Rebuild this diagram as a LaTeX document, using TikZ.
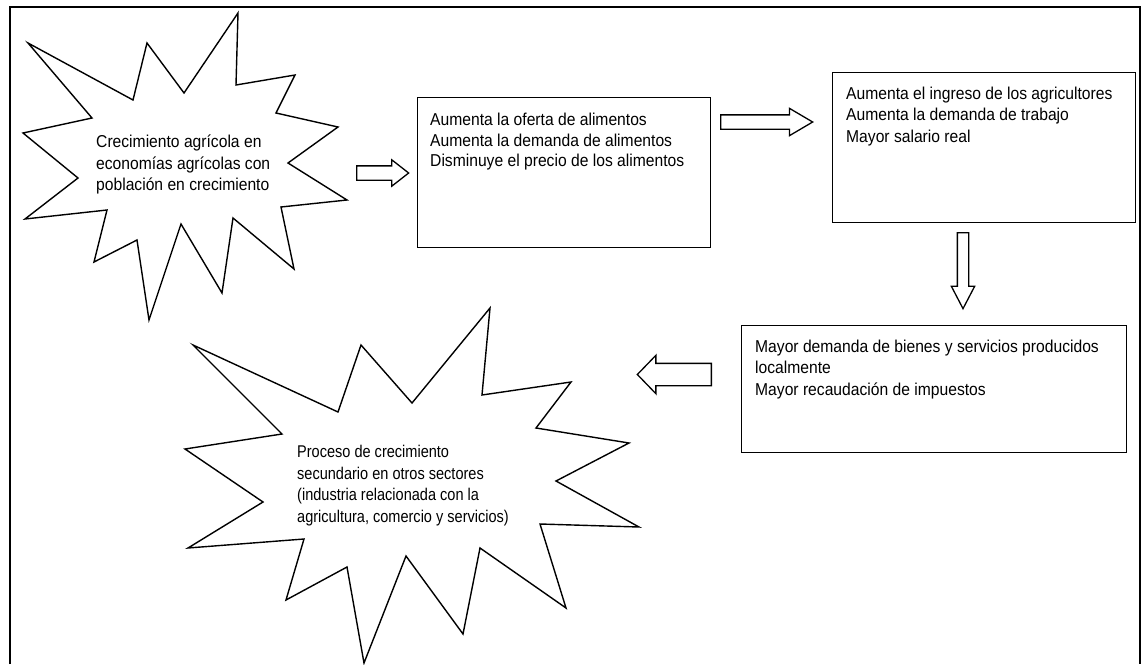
\documentclass[tikz,border=0pt]{standalone}
\usepackage{fontspec}
\setmainfont{Liberation Sans}
\newfontfamily\cuerpo[FakeStretch=0.91]{Liberation Sans}
\newfontfamily\cuerpoestrecho[FakeStretch=0.855]{Liberation Sans}
\usetikzlibrary{shapes.arrows}

\tikzset{
  marco/.style={line width=2.5pt},
  estrella/.style={line width=1.4pt},
  caja/.style={draw, line width=1.4pt, inner sep=0pt, anchor=north west},
  texto/.style={inner sep=0pt, align=left, anchor=north west,
    font=\cuerpo\fontsize{17.2}{21.5}\selectfont},
  flecha/.style={draw, single arrow, line width=1.3pt, inner xsep=0pt, anchor=tail},
}

\begin{document}
\begin{tikzpicture}[x=1pt,y=-1pt]
\useasboundingbox (0,0) rectangle (1148,664);
\draw[marco] (10,664) -- (10,7) -- (1140,7) -- (1140,664); % marco
% estrella de arriba
\draw[estrella] (238,13) -- (236,85) -- (295,75) -- (276,113) -- (338,127) -- (288,163)
  -- (347,200) -- (281,207) -- (294,269) -- (233,218) -- (222,293) -- (181,224)
  -- (149,320) -- (137,240) -- (94,262) -- (107,210) -- (25,219) -- (78,178)
  -- (23,133) -- (92,118) -- (28,43) -- (133,100) -- (147,43) -- (184,93) -- cycle;
\node[texto] (crecimiento) at (96,135) {Crecimiento agrícola en\\economías agrícolas con\\población en crecimiento};
% estrella de abajo
\draw[estrella] (490,308) -- (482,395) -- (571,382) -- (536,428) -- (629,443) -- (556,481)
  -- (639,527) -- (540,524) -- (566,608) -- (480,548) -- (463,634) -- (406,556)
  -- (364,663) -- (347,567) -- (286,600) -- (304,539) -- (188,548) -- (263,502)
  -- (185,449) -- (282,434) -- (193,345) -- (338,412) -- (361,345) -- (412,403) -- cycle;
\node[texto, font=\cuerpoestrecho\fontsize{17}{21.7}\selectfont] (secundario) at (297,445)
  {Proceso de crecimiento\\secundario en otros sectores\\(industria relacionada con la\\agricultura, comercio y servicios)};
% cajas
\node[caja, minimum width=293, minimum height=150] (oferta) at (417,97) {};
\node[texto, font=\cuerpo\fontsize{17.2}{20.5}\selectfont] (ofertatxt) at ([shift={(13,16)}]oferta.north west)
  {Aumenta la oferta de alimentos\\Aumenta la demanda de alimentos\\Disminuye el precio de los alimentos};
\node[caja, minimum width=303, minimum height=150] (ingreso) at (832,72) {};
\node[texto] (ingresotxt) at ([shift={(14,14.5)}]ingreso.north west)
  {Aumenta el ingreso de los agricultores\\Aumenta la demanda de trabajo\\Mayor salario real};
\node[caja, minimum width=385, minimum height=127] (demanda) at (741,325) {};
\node[texto] (demandatxt) at ([shift={(14,14.5)}]demanda.north west)
  {Mayor demanda de bienes y servicios producidos\\localmente\\Mayor recaudación de impuestos};
% flechas
\node[flecha, minimum height=52, inner ysep=6.5, single arrow head extend=6,
  single arrow tip angle=76] (fa) at (356,173) {};
\node[flecha, minimum height=92, inner ysep=6.5, single arrow head extend=6.5,
  single arrow tip angle=61] (fb) at (720,122) {};
\node[flecha, minimum height=76, inner xsep=5, inner ysep=0pt, single arrow head extend=6,
  single arrow tip angle=55, shape border rotate=270] (fc) at (963,232) {};
\node[flecha, minimum height=74, inner ysep=10.5, single arrow head extend=8,
  single arrow tip angle=92, shape border rotate=180] (fd) at (712,374.5) {};
\end{tikzpicture}
\end{document}
